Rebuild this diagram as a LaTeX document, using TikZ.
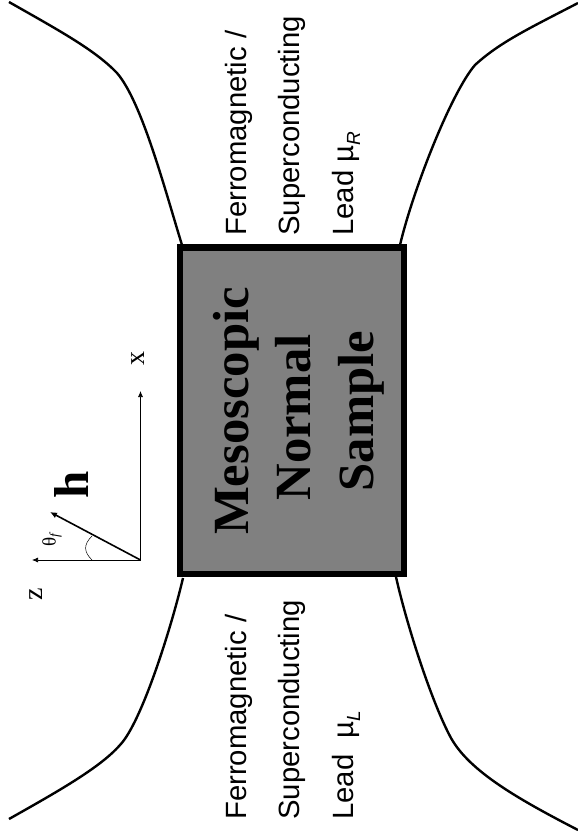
\documentclass[tikz,border=0pt]{standalone}
\usepackage{fontspec}
\setmainfont{Liberation Serif}
\setsansfont{Liberation Sans}
\usetikzlibrary{arrows.meta}
\definecolor{sampleGray}{HTML}{808080}
\newcommand{\leadsub}[1]{\raisebox{-7pt}{\fontsize{19}{19}\selectfont\textit{#1}}}
\tikzset{
  leadline/.style={line width=2.4pt},
  leadtext/.style={rotate=90,anchor=base west,inner sep=0pt,font=\sffamily\fontsize{29.3}{32}\selectfont},
  sampletext/.style={rotate=90,anchor=base,inner sep=0pt,font=\bfseries\fontsize{50.7}{54}\selectfont},
  axistext/.style={rotate=90,inner sep=0pt,font=\fontsize{28}{30}\selectfont},
  axisline/.style={line width=0.7pt,-{Latex[length=6pt,width=5pt]}},
}
\begin{document}
\begin{tikzpicture}[x=1pt,y=-1pt]
  \useasboundingbox (0,0) rectangle (578,838);
  % leads
  \draw[leadline] (182,245) .. controls (165,190) and (142,102) .. (117,73) .. controls (95,50) and (60,31) .. (9,2);
  \draw[leadline] (400,245) .. controls (413,190) and (451,93) .. (475,65) .. controls (500,42) and (530,28) .. (578,3);
  \draw[leadline] (183,578) .. controls (172,625) and (142,722) .. (120,745) .. controls (100,768) and (55,793) .. (9,819);
  \draw[leadline] (396,577) .. controls (408,630) and (433,705) .. (451,738) .. controls (470,772) and (520,800) .. (578,830);

  \node[draw=black,fill=sampleGray,line width=6.6pt,minimum width=224pt,minimum height=326.7pt,
        inner sep=0pt] (sample) at (292,410.6) {};
  \node[sampletext] (meso) at (248,411) {Mesoscopic};
  \node[sampletext] (normal) at (310,417.5) {Normal};
  \node[sampletext] (samp) at (373,411) {Sample};

  \node[leadtext] (ferroR) at (246,236) {Ferromagnetic /};
  \node[leadtext] (superR) at (299,236) {Superconducting};
  \node[leadtext] (leadR) at (353,236) {Lead µ\leadsub{R}};
  \node[leadtext] (ferroL) at (246,820) {Ferromagnetic /};
  \node[leadtext] (superL) at (299,820) {Superconducting};
  \node[leadtext] (leadL) at (353,820) {Lead\ \ µ\leadsub{L}};

  % axes
  \coordinate (origin) at (140.5,560);
  \coordinate (xtip) at (140.5,391);
  \coordinate (ztip) at (32,560);
  \coordinate (htip) at (50,512);
  \draw[axisline] (origin) -- (xtip);
  \draw[axisline] (origin) -- (ztip);
  \draw[line width=1.6pt,-{Latex[length=7pt,width=6pt]}] (origin) -- (htip);
  \draw[line width=0.5pt] (92,560) .. controls (84,552) and (83,545) .. (92,536);

  \node[axistext] (xlabel) at (138,358) {x};
  \node[axistext] (zlabel) at (36,594) {z};
  \node[rotate=90,anchor=base,inner sep=0pt,font=\bfseries\fontsize{49}{52}\selectfont] (hlabel) at (88,485) {h};
  \node[rotate=90,inner sep=0pt,font=\fontsize{19}{21}\selectfont] (thetalabel) at (52,539.5) {θ\textsubscript{\textit{f}}};
\end{tikzpicture}
\end{document}
